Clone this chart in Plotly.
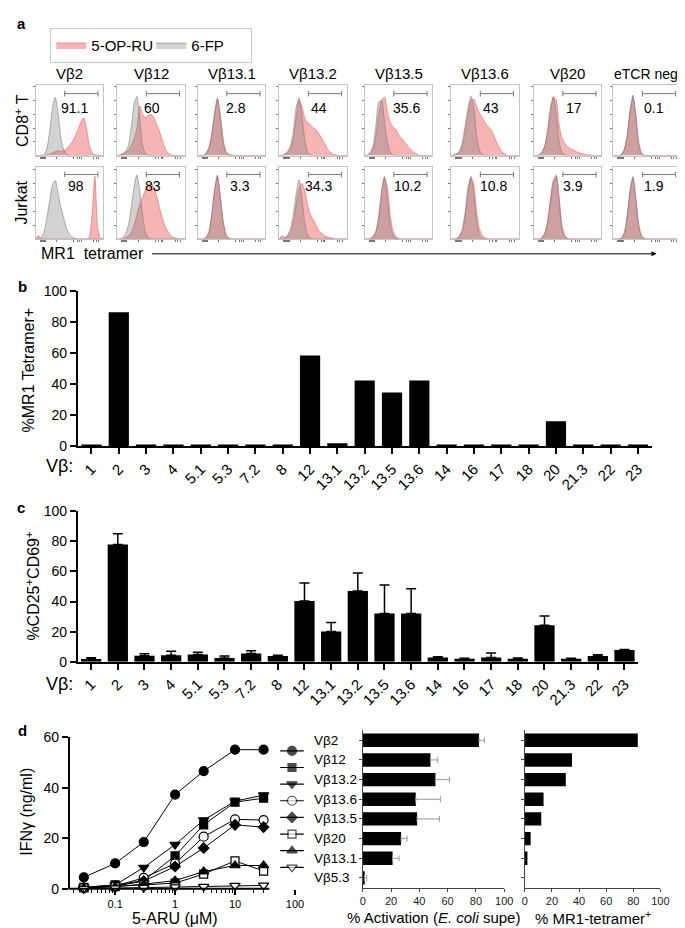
import math
import plotly.graph_objects as go

W, H = 685, 928
FONT = "Liberation Sans, Arial, sans-serif"

# ---------------- panel a: MR1 tetramer histograms (25 channels, normalised counts)
hist_cols = ["Vβ2", "Vβ12", "Vβ13.1", "Vβ13.2", "Vβ13.5", "Vβ13.6", "Vβ20", "eTCR neg"]
cd8_pct = ["91.1", "60", "2.8", "44", "35.6", "43", "17", "0.1"]
jurkat_pct = ["98", "83", "3.3", "34.3", "10.2", "10.8", "3.9", "1.9"]
channels = list(range(25))

cd8_6fp = [
    [0, 0, 0, .01, .1, .35, .7, .85, .6, .25, .08, .02, 0, 0, 0, 0, 0, 0, 0, 0, 0, 0, 0, 0, 0],
    [0, 0, .02, .05, .15, .4, .75, .86, .55, .15, .03, 0, 0, 0, 0, 0, 0, 0, 0, 0, 0, 0, 0, 0, 0],
    [0, 0, 0, .03, .1, .3, .6, .84, .55, .2, .04, .01, 0, 0, 0, 0, 0, 0, 0, 0, 0, 0, 0, 0, 0],
    [0, 0, .02, .06, .15, .35, .7, .84, .6, .25, .06, .01, 0, 0, 0, 0, 0, 0, 0, 0, 0, 0, 0, 0, 0],
    [0, .01, .05, .15, .45, .78, .8, .5, .2, .05, .01, 0, 0, 0, 0, 0, 0, 0, 0, 0, 0, 0, 0, 0, 0],
    [0, 0, .02, .06, .2, .45, .7, .86, .7, .3, .08, .02, 0, 0, 0, 0, 0, 0, 0, 0, 0, 0, 0, 0, 0],
    [0, 0, .01, .05, .15, .4, .72, .86, .6, .2, .05, .01, 0, 0, 0, 0, 0, 0, 0, 0, 0, 0, 0, 0, 0],
    [0, 0, 0, .02, .1, .3, .65, .88, .55, .15, .02, 0, 0, 0, 0, 0, 0, 0, 0, 0, 0, 0, 0, 0, 0],
]
cd8_5opru = [
    [0, 0, 0, 0, .01, .02, .04, .06, .07, .06, .07, .1, .15, .2, .28, .38, .48, .55, .4, .15, .04, .01, .01, 0, 0],
    [0, .01, .03, .05, .08, .15, .25, .4, .72, .6, .55, .58, .6, .55, .45, .35, .22, .1, .04, .01, 0, 0, 0, 0, 0],
    [0, 0, 0, .04, .12, .32, .62, .82, .6, .25, .06, .02, .01, 0, 0, 0, 0, 0, 0, 0, 0, 0, 0, 0, 0],
    [0, 0, .02, .05, .1, .25, .55, .8, .72, .55, .48, .45, .4, .38, .32, .25, .18, .1, .05, .02, .01, 0, 0, 0, 0],
    [0, 0, .03, .1, .3, .6, .8, .85, .65, .48, .42, .38, .3, .25, .2, .15, .1, .06, .03, .01, 0, 0, 0, 0, 0],
    [0, .01, .03, .06, .15, .35, .6, .8, .82, .72, .62, .55, .48, .42, .38, .3, .2, .12, .05, .02, 0, 0, 0, 0, 0],
    [0, 0, .01, .05, .15, .35, .65, .85, .8, .45, .25, .18, .13, .1, .08, .06, .04, .03, .02, .01, .01, 0, 0, 0, 0],
    [0, 0, 0, .02, .1, .32, .68, .85, .6, .2, .04, 0, 0, 0, 0, 0, 0, 0, 0, 0, 0, 0, 0, 0, 0],
]
jurkat_6fp = [
    [0, 0, .02, .1, .3, .55, .78, .84, .65, .45, .3, .15, .07, .03, .01, 0, 0, 0, 0, 0, 0, 0, 0, 0, 0],
    [0, 0, .02, .08, .2, .45, .75, .92, .7, .35, .1, .02, 0, 0, 0, 0, 0, 0, 0, 0, 0, 0, 0, 0, 0],
    [0, 0, 0, .02, .1, .35, .7, .92, .6, .25, .06, .01, 0, 0, 0, 0, 0, 0, 0, 0, 0, 0, 0, 0, 0],
    [0, 0, .02, .06, .15, .35, .65, .85, .6, .25, .06, .01, 0, 0, 0, 0, 0, 0, 0, 0, 0, 0, 0, 0, 0],
    [0, 0, .01, .04, .12, .35, .7, .9, .6, .2, .05, .01, 0, 0, 0, 0, 0, 0, 0, 0, 0, 0, 0, 0, 0],
    [0, 0, .01, .05, .15, .4, .75, .9, .65, .25, .06, .01, 0, 0, 0, 0, 0, 0, 0, 0, 0, 0, 0, 0, 0],
    [0, 0, 0, .02, .08, .25, .55, .82, .92, .55, .15, .03, 0, 0, 0, 0, 0, 0, 0, 0, 0, 0, 0, 0, 0],
    [0, 0, 0, .02, .1, .35, .7, .9, .55, .18, .04, 0, 0, 0, 0, 0, 0, 0, 0, 0, 0, 0, 0, 0, 0],
]
jurkat_5opru = [
    [0, .05, 0, 0, 0, 0, 0, 0, 0, 0, 0, 0, 0, 0, 0, 0, 0, 0, 0, .02, .35, .9, .15, .01, 0],
    [0, 0, 0, .02, .05, .1, .2, .35, .5, .6, .7, .78, .8, .75, .62, .45, .3, .18, .1, .05, .02, .01, 0, 0, 0],
    [0, 0, 0, .02, .11, .36, .72, .9, .62, .27, .07, .01, 0, 0, 0, 0, 0, 0, 0, 0, 0, 0, 0, 0, 0],
    [0, .05, .02, .04, .1, .25, .5, .72, .8, .7, .5, .35, .28, .2, .12, .08, .05, .03, .02, .01, 0, 0, 0, 0, 0],
    [0, 0, 0, .03, .1, .3, .65, .88, .75, .35, .12, .04, .01, 0, 0, 0, 0, 0, 0, 0, 0, 0, 0, 0, 0],
    [0, 0, 0, .04, .12, .35, .68, .88, .78, .4, .15, .05, .02, 0, 0, 0, 0, 0, 0, 0, 0, 0, 0, 0, 0],
    [0, 0, 0, .02, .1, .28, .6, .85, .9, .6, .2, .05, .01, 0, 0, 0, 0, 0, 0, 0, 0, 0, 0, 0, 0],
    [0, 0, 0, .02, .1, .35, .72, .88, .6, .22, .05, .01, 0, 0, 0, 0, 0, 0, 0, 0, 0, 0, 0, 0, 0],
]

# ---------------- panels b, c: Vbeta screen
vb = ["1", "2", "3", "4", "5.1", "5.3", "7.2", "8", "12", "13.1", "13.2", "13.5", "13.6",
      "14", "16", "17", "18", "20", "21.3", "22", "23"]
tet_pos = [1.3, 86.5, 1.3, 1.3, 1.3, 1.3, 1.3, 1.3, 58.5, 2.1, 42.5, 34.7, 42.5,
           1.3, 1.3, 1.3, 1.3, 16.2, 1.3, 1.3, 1.3]
cd25_cd69 = [1.7, 78, 3.9, 4.3, 4.8, 2.4, 5.4, 3.7, 40.3, 20, 47, 32, 32,
             2.8, 2, 2.8, 2, 24.3, 2, 3.7, 7.8]
cd25_cd69_err = [0.9, 7, 1.3, 2.7, 1.5, 1.3, 1.8, 0.6, 12, 6, 12, 19, 16.5,
                 0.4, 0.2, 2.9, 0.4, 6, 0.2, 0.9, 0.3]

# ---------------- panel d
aru_um = [0.03, 0.1, 0.3, 1, 3, 10, 30]
ifng = {
    "Vβ2": [4.5, 10, 18.5, 37.3, 46.6, 55.1, 55.1],
    "Vβ12": [0.5, 1.5, 3.2, 13, 25.3, 34.3, 35.9],
    "Vβ13.2": [0.5, 1.5, 8.4, 17.5, 27.2, 34.7, 37.1],
    "Vβ13.6": [0.3, 1, 4.3, 10, 20.6, 27.5, 27.2],
    "Vβ13.5": [0.3, 1, 3, 8.8, 16.1, 25.3, 24.4],
    "Vβ20": [0.3, 0.8, 1.5, 2.2, 5.8, 11, 7],
    "Vβ13.1": [0.3, 0.8, 1.8, 3.2, 6.8, 9.2, 9.2],
    "Vβ5.3": [0, 0.2, 0.4, 0.6, 0.8, 1.2, 1.3],
}
clones = list(ifng.keys())
clone_symbols = ["circle", "square", "triangle-down", "circle", "diamond",
                 "square", "triangle-up", "triangle-down"]
clone_fill = ["black", "black", "black", "white", "black", "white", "black", "white"]
clone_sizes = [9, 8, 9, 9, 8, 8, 9, 9]
activation = [82.2, 47.9, 51.4, 37.5, 38.4, 27.1, 21.1, 1.2]
activation_err = [3.8, 5.1, 9.9, 17.4, 15.8, 4.2, 4.6, 1.6]
tet_clone = [83.3, 34.8, 30.2, 13.8, 12.1, 4.3, 1.9, 0]

fig = go.Figure()
annotations = []
shapes = []
ax_n = [0]


def new_axes(x0, x1, y0, y1, xa, ya):
    ax_n[0] += 1
    s = "" if ax_n[0] == 1 else str(ax_n[0])
    xa = dict(xa, domain=[x0 / W, x1 / W], anchor="y" + s)
    ya = dict(ya, domain=[1 - y1 / H, 1 - y0 / H], anchor="x" + s)
    fig.update_layout({"xaxis" + s: xa, "yaxis" + s: ya})
    return "x" + s, "y" + s


def txt(x, y, s, size=14, **kw):
    d = dict(x=x / W, y=1 - y / H, xref="paper", yref="paper", text=s, showarrow=False,
             xanchor="center", yanchor="middle",
             font=dict(size=size, family=FONT, color="black"))
    d.update(kw)
    annotations.append(d)


# ---- panel a
hist_left = [25, 108, 190, 273, 360, 448, 532, 613]
hist_w = 69
rows = [(70, 142, cd8_5opru, cd8_6fp, cd8_pct, 0.67),
        (154, 227, jurkat_5opru, jurkat_6fp, jurkat_pct, 0.74)]
num_x = [[0.58, 0.51, 0.57, 0.58, 0.61, 0.59, 0.59, 0.6],
         [0.6, 0.53, 0.62, 0.58, 0.63, 0.63, 0.58, 0.6]]
hx = dict(range=[0, 24], showline=True, mirror=True, linecolor="#c4c4c4", linewidth=1,
          ticks="outside", ticklen=2, tickcolor="#777",
          tickvals=[1.6, 2.0, 2.3, 2.6, 2.9, 3.2, 3.5, 7.5, 13.5, 14.8, 15.6, 16.2, 20.5, 21.5, 22.3],
          showticklabels=False, showgrid=False, zeroline=False, fixedrange=True)
hy = dict(range=[0, 1.03], showline=True, mirror=True, linecolor="#c4c4c4", linewidth=1,
          ticks="outside", ticklen=2, tickcolor="#777", tickvals=[0.2, 0.4, 0.6, 0.8, 1.0],
          showticklabels=False, showgrid=False, zeroline=False)

first = True
for r, (y0, y1, pink, gray, pct, ny) in enumerate(rows):
    for i in range(8):
        xa, ya = new_axes(hist_left[i], hist_left[i] + hist_w, y0, y1, hx, hy)
        fig.add_trace(go.Scatter(x=channels, y=pink[i], mode="lines", fill="tozeroy",
                                 line=dict(color="rgba(235,95,95,0.9)", width=0.7, shape="spline", smoothing=0.6),
                                 fillcolor="rgba(240,105,105,0.5)", name="5-OP-RU",
                                 showlegend=first, xaxis=xa, yaxis=ya))
        fig.add_trace(go.Scatter(x=channels, y=gray[i], mode="lines", fill="tozeroy",
                                 line=dict(color="rgba(120,120,120,0.8)", width=0.7, shape="spline", smoothing=0.6),
                                 fillcolor="rgba(125,125,125,0.35)", name="6-FP",
                                 showlegend=first, xaxis=xa, yaxis=ya))
        first = False
        gy = 0.875 if r == 0 else 0.9
        shapes.append(dict(type="line", xref=xa + " domain", yref=ya + " domain",
                           x0=0.43, x1=0.92, y0=gy, y1=gy, line=dict(color="#777", width=1)))
        for ex in (0.43, 0.92):
            shapes.append(dict(type="line", xref=xa + " domain", yref=ya + " domain",
                               x0=ex, x1=ex, y0=gy - 0.04, y1=gy + 0.04, line=dict(color="#777", width=1)))
        annotations.append(dict(x=num_x[r][i], y=ny, xref=xa + " domain", yref=ya + " domain",
                                xanchor="center", yanchor="middle",
                                text=pct[i], showarrow=False, font=dict(size=14, family=FONT, color="black")))
        if r == 0:
            if i < 7:
                txt(hist_left[i] + hist_w / 2, 59, hist_cols[i], size=15)
            else:
                txt(681, 59, hist_cols[i], size=14, xanchor="right")

txt(4, 8, "<b>a</b>", size=15, xanchor="left")
txt(11, 106, "CD8<sup>+</sup> T", size=16, textangle=-90)
txt(11, 190, "Jurkat", size=16, textangle=-90)
txt(28, 242, "MR1  tetramer", size=16, xanchor="left")
annotations.append(dict(x=657 / W, y=1 - 242 / H, xref="paper", yref="paper", text="",
                        showarrow=True, ax=-506, ay=0, arrowhead=2, arrowsize=1,
                        arrowwidth=1, arrowcolor="black"))

# ---- panels b and c
def bar_axes(y_top, y_bot, x_left, x_right):
    xa = dict(type="category", categoryorder="array", categoryarray=vb, range=[-0.5, 20.5],
              tickangle=-45, ticks="outside", ticklen=6, tickwidth=1.5, tickcolor="black",
              showline=True, linewidth=2, linecolor="black", showgrid=False,
              tickfont=dict(size=15, family=FONT, color="black"))
    ya = dict(range=[0, 100], tickvals=[0, 20, 40, 60, 80, 100], ticks="outside", ticklen=6,
              tickwidth=1.5, tickcolor="black", showline=True, linewidth=2, linecolor="black",
              showgrid=False, zeroline=False, tickfont=dict(size=14, family=FONT, color="black"))
    return new_axes(x_left, x_right, y_top, y_bot, xa, ya)


xb, yb = bar_axes(280, 438, 68, 652)
fig.add_trace(go.Bar(x=vb, y=tet_pos, marker=dict(color="black", line=dict(width=0)), width=0.74,
                     showlegend=False, xaxis=xb, yaxis=yb))
txt(5, 275, "<b>b</b>", size=15, xanchor="left")
txt(18, 360, "%MR1 Tetramer+", size=16, textangle=-90)
txt(49, 458, "Vβ:", size=18)

xc, yc = bar_axes(504, 657, 68, 638)
fig.add_trace(go.Bar(x=vb, y=cd25_cd69, marker=dict(color="black", line=dict(width=0)), width=0.76,
                     error_y=dict(type="data", array=cd25_cd69_err, arrayminus=[0] * len(vb),
                                  symmetric=False, color="black", thickness=1.5, width=5),
                     showlegend=False, xaxis=xc, yaxis=yc))
txt(4, 500, "<b>c</b>", size=15, xanchor="left")
txt(22, 580, "%CD25<sup>+</sup>CD69<sup>+</sup>", size=16, textangle=-90)
txt(49, 680, "Vβ:", size=18)

# ---- panel d, dose response
lo = -1 - 46 / 61
hi = 1 + 64 / 61
minor_vals = [0.02, 0.03, 0.04, 0.05, 0.06, 0.07, 0.08, 0.09,
              0.2, 0.3, 0.4, 0.5, 0.6, 0.7, 0.8, 0.9,
              2, 3, 4, 5, 6, 7, 8, 9, 20, 30]
xd, yd = new_axes(60, 292, 734, 888,
                  dict(type="log", range=[lo, hi], tickvals=[0.1, 1, 10, 100],
                       ticktext=["0.1", "1", "10", "100"], ticks="outside", ticklen=5,
                       tickwidth=1.5, tickcolor="black", showline=False, showgrid=False,
                       zeroline=False, tickfont=dict(size=11, family=FONT, color="black"),
                       minor=dict(tickvals=minor_vals, ticks="outside", ticklen=3,
                                  tickwidth=1.2, tickcolor="black", showgrid=False)),
                  dict(range=[0, 60], tickvals=[0, 20, 40, 60], ticks="outside", ticklen=6,
                       tickwidth=1.5, tickcolor="black", showline=True, linewidth=2,
                       linecolor="black", showgrid=False, zeroline=False,
                       tickfont=dict(size=14, family=FONT, color="black")))
for k, name in enumerate(clones):
    fig.add_trace(go.Scatter(x=aru_um, y=ifng[name], mode="lines+markers", name=name,
                             line=dict(color="black", width=1),
                             marker=dict(symbol=clone_symbols[k], size=clone_sizes[k], color=clone_fill[k],
                                         line=dict(color="black", width=1.2)),
                             cliponaxis=False, showlegend=False, xaxis=xd, yaxis=yd))
shapes.append(dict(type="line", xref="paper", yref="paper", x0=59 / W, x1=263 / W,
                   y0=1 - 888 / H, y1=1 - 888 / H, line=dict(color="black", width=2)))
txt(5, 727, "<b>d</b>", size=15, xanchor="left")
txt(15, 810, "IFNγ (ng/ml)", size=16, textangle=-90)
txt(167, 918, "5-ARU (μM)", size=16)

# symbol key, sharing the clone rows of the bar charts
cat_y = dict(type="category", categoryorder="array", categoryarray=clones, autorange="reversed",
             showgrid=False, zeroline=False)
xk, yk = new_axes(274, 298, 727, 887,
                  dict(range=[-1, 1], visible=False),
                  dict(cat_y, visible=False))
fig.add_trace(go.Scatter(x=[0] * len(clones), y=clones, mode="markers",
                         marker=dict(symbol="line-ew", size=20, line=dict(color="black", width=1.2)),
                         showlegend=False, xaxis=xk, yaxis=yk))
fig.add_trace(go.Scatter(x=[0] * len(clones), y=clones, mode="markers",
                         marker=dict(symbol=clone_symbols, size=clone_sizes, color=clone_fill,
                                     line=dict(color="black", width=1.2)),
                         showlegend=False, xaxis=xk, yaxis=yk))

hbar_x = dict(range=[0, 100], tickvals=[0, 20, 40, 60, 80, 100], ticks="outside", ticklen=3,
              tickcolor="#444", showline=True, linewidth=1, linecolor="#444", showgrid=False,
              zeroline=False, tickfont=dict(size=11, family=FONT, color="#222"))
hbar_y = dict(cat_y, ticks="outside", ticklen=3, tickcolor="#444", showline=True, linewidth=1,
              linecolor="#444", showticklabels=False, range=[7.5, -0.5])
xm, ym = new_axes(358, 502, 727, 887, hbar_x, hbar_y)
fig.add_trace(go.Bar(x=activation, y=clones, orientation="h", marker=dict(color="black", line=dict(width=0)),
                     width=0.68,
                     error_x=dict(type="data", array=activation_err, arrayminus=[0] * len(clones),
                                  symmetric=False, color="#999", thickness=1, width=3),
                     showlegend=False, xaxis=xm, yaxis=ym))
for c in clones:
    annotations.append(dict(x=306 / W, y=c, xref="paper", yref=ym, text=c, xanchor="left",
                            yanchor="middle", showarrow=False,
                            font=dict(size=13.5, family=FONT, color="black")))
xr, yr = new_axes(523, 661, 727, 887, hbar_x, hbar_y)
fig.add_trace(go.Bar(x=tet_clone, y=clones, orientation="h", marker=dict(color="black", line=dict(width=0)),
                     width=0.68, showlegend=False, xaxis=xr, yaxis=yr))
txt(430, 917, "% Activation (<i>E. coli</i> supe)", size=15)
txt(592, 917, "% MR1-tetramer<sup>+</sup>", size=15)

fig.update_layout(
    width=W, height=H, margin=dict(l=0, r=0, t=0, b=0),
    plot_bgcolor="white", paper_bgcolor="white",
    font=dict(family=FONT, color="black"),
    bargap=0.26,
    annotations=annotations, shapes=shapes,
    legend=dict(x=40 / W, y=1 - 12 / H, xanchor="left", yanchor="top", orientation="h",
                bordercolor="#c8c8c8", borderwidth=1, font=dict(size=15, family=FONT),
                entrywidth=55, itemwidth=30, tracegroupgap=0),
)

fig.write_html("out.html")
